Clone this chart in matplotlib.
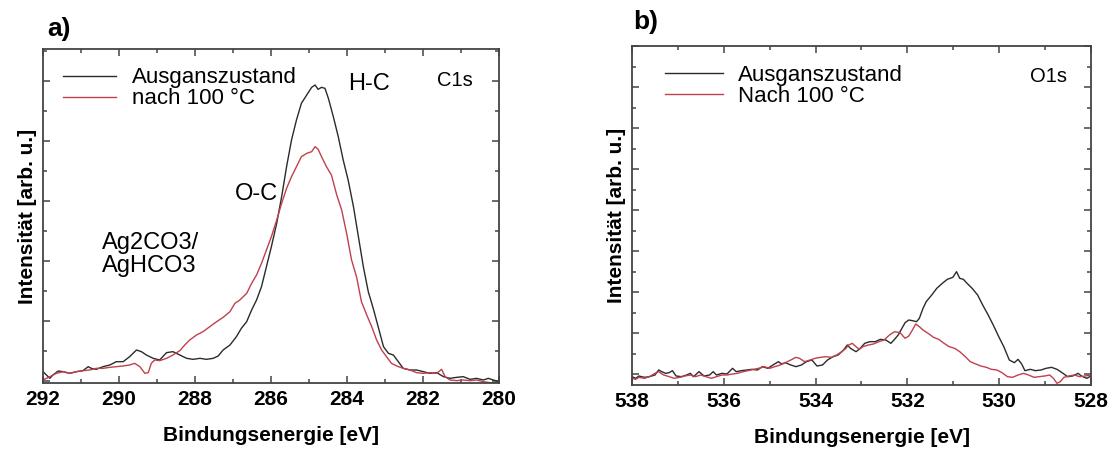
import matplotlib
matplotlib.use("Agg")
import matplotlib.pyplot as plt
from matplotlib.ticker import MultipleLocator

plt.rcParams['font.family'] = ['Liberation Sans', 'DejaVu Sans']

# ---- a) C1s ----
c1s_e_start = [292.00, 291.91, 291.82, 291.74, 291.60, 291.47, 291.30, 291.12, 290.95, 290.81,
               290.73, 290.60, 290.42, 290.24, 290.07, 289.89, 289.72, 289.54, 289.41, 289.28,
               289.10, 288.93, 288.75, 288.58, 288.40, 288.22, 288.05, 287.87, 287.70, 287.52,
               287.39, 287.26, 287.08, 286.91, 286.78, 286.64, 286.51, 286.38, 286.25, 286.12,
               285.99, 285.85, 285.72, 285.59, 285.46, 285.33, 285.20, 285.06, 284.93, 284.84,
               284.76, 284.67, 284.58, 284.49, 284.36, 284.23, 284.10, 283.97, 283.83, 283.70,
               283.57, 283.44, 283.31, 283.18, 283.04, 282.91, 282.78, 282.65, 282.52, 282.34,
               282.17, 281.99, 281.82, 281.64, 281.46, 281.29, 281.11, 280.94, 280.76, 280.59,
               280.41, 280.28, 280.15, 280.00]
c1s_i_start = [2.8, 1.8, 0.8, 1.8, 3.0, 2.8, 2.3, 2.8, 3.1, 4.3,
               3.8, 3.5, 4.3, 4.8, 5.8, 5.8, 7.3, 9.3, 8.8, 7.8,
               6.8, 6.3, 8.5, 8.8, 7.8, 6.8, 6.5, 6.8, 6.5, 6.8,
               7.5, 9.3, 10.8, 13.3, 15.8, 17.8, 21.3, 24.3, 28.3, 34.3,
               40.3, 47.3, 55.3, 64.3, 72.3, 78.3, 83.3, 85.8, 88.1, 88.8,
               87.5, 88.1, 87.8, 84.8, 79.3, 73.3, 66.3, 60.3, 52.3, 43.3,
               34.3, 26.8, 21.8, 16.3, 10.3, 8.3, 7.8, 5.8, 3.8, 3.3,
               3.3, 2.8, 2.3, 2.5, 1.3, 0.8, 1.1, 1.3, 0.5, 0.8,
               0.3, 0.8, 0.3, -0.2]

c1s_e_100 = [292.00, 291.82, 291.65, 291.47, 291.30, 291.12, 290.95, 290.77, 290.60, 290.42,
             290.24, 290.07, 289.89, 289.72, 289.59, 289.45, 289.32, 289.23, 289.15, 289.06,
             288.93, 288.75, 288.58, 288.40, 288.27, 288.14, 287.96, 287.79, 287.61, 287.43,
             287.26, 287.08, 286.95, 286.82, 286.64, 286.51, 286.38, 286.25, 286.12, 285.99,
             285.85, 285.72, 285.59, 285.46, 285.33, 285.20, 285.06, 284.93, 284.84, 284.76,
             284.67, 284.54, 284.41, 284.27, 284.14, 284.01, 283.88, 283.75, 283.62, 283.48,
             283.35, 283.22, 283.09, 282.96, 282.83, 282.69, 282.52, 282.34, 282.17, 281.99,
             281.82, 281.64, 281.51, 281.42, 281.29, 281.11, 280.94, 280.76, 280.59, 280.41,
             280.24, 280.00]
c1s_i_100 = [0.3, 1.3, 2.3, 2.8, 2.3, 2.8, 3.1, 3.3, 3.8, 3.8,
             4.1, 4.3, 4.5, 4.8, 5.3, 4.3, 2.3, 2.5, 5.3, 6.3,
             6.1, 6.8, 7.8, 9.1, 10.8, 12.3, 13.8, 14.8, 16.3, 17.8,
             19.1, 20.8, 23.3, 24.3, 26.3, 29.3, 31.8, 35.3, 39.3, 43.3,
             48.3, 53.3, 57.8, 61.3, 64.3, 67.3, 68.3, 68.8, 70.3, 69.5,
             67.3, 64.3, 61.8, 55.8, 51.3, 44.3, 36.3, 31.3, 23.8, 19.8,
             16.3, 12.3, 9.3, 7.3, 5.3, 4.5, 3.8, 3.3, 2.5, 2.3,
             2.5, 2.3, 3.5, 1.3, 0.3, 0.1, 0.3, 0.1, 0.3, -0.2,
             -0.5, -0.5]

# ---- b) O1s ----
o1s_e_start = [538.00, 537.92, 537.85, 537.73, 537.62, 537.50, 537.42, 537.35, 537.27, 537.19,
               537.12, 537.04, 536.92, 536.81, 536.73, 536.66, 536.54, 536.43, 536.31, 536.23,
               536.16, 536.04, 535.93, 535.81, 535.73, 535.62, 535.50, 535.39, 535.27, 535.16,
               535.04, 534.93, 534.81, 534.74, 534.66, 534.54, 534.43, 534.31, 534.20, 534.08,
               533.97, 533.85, 533.74, 533.62, 533.51, 533.39, 533.31, 533.24, 533.12, 533.05,
               532.93, 532.82, 532.70, 532.59, 532.47, 532.36, 532.28, 532.20, 532.12, 532.05,
               531.97, 531.89, 531.80, 531.74, 531.66, 531.59, 531.47, 531.36, 531.24, 531.13,
               531.01, 530.93, 530.86, 530.78, 530.70, 530.59, 530.47, 530.36, 530.24, 530.13,
               530.01, 529.90, 529.78, 529.67, 529.59, 529.51, 529.44, 529.32, 529.21, 529.09,
               528.98, 528.86, 528.74, 528.63, 528.51, 528.40, 528.28, 528.21, 528.09, 528.00]
o1s_i_start = [2.5, 2.0, 2.7, 2.3, 2.5, 3.0, 4.5, 4.0, 3.5, 3.7,
               4.3, 2.7, 2.5, 3.0, 3.5, 2.5, 4.0, 2.7, 3.0, 4.0,
               3.0, 3.5, 3.3, 5.0, 4.0, 4.3, 4.5, 4.7, 4.5, 5.5,
               5.0, 6.0, 7.0, 6.3, 6.7, 6.0, 5.5, 6.0, 7.0, 7.5,
               5.7, 6.0, 7.5, 8.5, 9.0, 10.5, 12.0, 11.0, 10.0, 10.7,
               12.5, 13.0, 13.0, 13.7, 13.5, 12.5, 13.7, 15.0, 17.0, 18.7,
               19.5, 19.3, 19.0, 20.0, 23.0, 25.0, 27.0, 29.0, 30.5, 31.7,
               32.3, 34.0, 32.0, 31.7, 30.5, 29.0, 27.0, 24.0, 21.0, 18.0,
               14.5, 11.5, 7.5, 6.7, 7.7, 6.3, 4.3, 4.7, 4.3, 4.5,
               5.0, 5.3, 4.7, 3.7, 2.5, 2.7, 3.5, 2.7, 2.0, 2.7]

o1s_e_100 = [538.00, 537.92, 537.85, 537.73, 537.62, 537.50, 537.42, 537.31, 537.19, 537.08,
             536.96, 536.85, 536.73, 536.62, 536.50, 536.39, 536.27, 536.16, 536.04, 535.93,
             535.81, 535.70, 535.58, 535.47, 535.35, 535.24, 535.12, 535.00, 534.89, 534.77,
             534.66, 534.54, 534.43, 534.35, 534.24, 534.12, 534.01, 533.89, 533.78, 533.66,
             533.54, 533.43, 533.34, 533.28, 533.20, 533.12, 533.05, 532.97, 532.85, 532.74,
             532.62, 532.51, 532.39, 532.28, 532.16, 532.05, 531.97, 531.89, 531.82, 531.74,
             531.66, 531.55, 531.43, 531.32, 531.20, 531.09, 530.97, 530.86, 530.74, 530.63,
             530.51, 530.40, 530.28, 530.17, 530.05, 529.94, 529.82, 529.71, 529.59, 529.47,
             529.36, 529.24, 529.13, 529.01, 528.90, 528.82, 528.74, 528.67, 528.59, 528.48,
             528.36, 528.25, 528.13, 528.00]
o1s_i_100 = [2.0, 1.7, 2.3, 2.0, 2.5, 3.5, 4.0, 3.0, 2.5, 2.0,
             2.3, 2.7, 3.0, 2.5, 3.0, 2.5, 2.0, 2.5, 3.0, 3.0,
             3.3, 3.5, 4.0, 4.3, 4.7, 5.0, 5.5, 5.0, 5.5, 6.0,
             6.7, 7.5, 8.3, 8.0, 7.0, 7.5, 8.0, 8.3, 8.5, 8.3,
             9.0, 10.0, 11.0, 12.0, 12.5, 11.5, 10.7, 11.5, 12.0, 12.3,
             13.0, 13.5, 15.0, 16.0, 15.7, 14.0, 14.7, 16.5, 18.3, 17.5,
             16.5, 15.5, 14.3, 13.7, 12.5, 11.5, 11.0, 10.0, 8.5, 7.0,
             6.3, 5.7, 5.3, 4.7, 4.5, 3.7, 2.5, 2.3, 3.0, 3.5,
             3.0, 2.3, 2.5, 2.7, 3.0, 2.0, 0.5, 1.0, 2.3, 2.7,
             3.0, 2.5, 2.7, 3.0]

black = '#2b2b2b'
red = '#c0404c'
axcol = '#444444'

fig = plt.figure(figsize=(11.13, 4.53), dpi=100)
ax1 = fig.add_axes([43/1113, 70/453, 456/1113, 334/453])
ax2 = fig.add_axes([632/1113, 68/453, 459/1113, 339/453])


def style(ax):
    for s in ax.spines.values():
        s.set_color(axcol)
        s.set_linewidth(1.3)
    ax.tick_params(which='both', direction='in', top=True, right=True,
                   labelleft=False, color=axcol, width=1.1)
    ax.tick_params(which='major', length=5, pad=5)
    ax.tick_params(which='minor', length=3)
    ax.xaxis.set_major_locator(MultipleLocator(2))
    ax.xaxis.set_minor_locator(MultipleLocator(1))
    for lab in ax.get_xticklabels():
        lab.set_fontsize(15)
        lab.set_fontweight('bold')
    ax.set_xlabel('Bindungsenergie [eV]', fontsize=15, fontweight='bold', labelpad=12)
    ax.set_ylabel('Intensität [arb. u.]', fontsize=15, fontweight='bold', labelpad=4)


# panel a
ax1.plot(c1s_e_start, c1s_i_start, color=black, lw=1.0, label='Ausganszustand')
ax1.plot(c1s_e_100, c1s_i_100, color=red, lw=1.0, label='nach 100 °C')
ax1.set_xlim(292, 280)
ax1.set_ylim(-0.6, 99.6)
ax1.yaxis.set_major_locator(MultipleLocator(18))
ax1.yaxis.set_minor_locator(MultipleLocator(9))
style(ax1)
ax1.legend(loc='upper left', bbox_to_anchor=(0.044, 0.945), frameon=False, fontsize=16,
           handlelength=2.4, handletextpad=0.7, borderpad=0, borderaxespad=0,
           labelspacing=0.0)
ax1.text(0.67, 0.895, 'H-C', transform=ax1.transAxes, fontsize=17, va='center')
ax1.text(0.865, 0.905, 'C1s', transform=ax1.transAxes, fontsize=14.5, va='center')
ax1.text(0.42, 0.565, 'O-C', transform=ax1.transAxes, fontsize=17, va='center')
ax1.text(0.13, 0.385, 'Ag2CO3/\nAgHCO3', transform=ax1.transAxes, fontsize=17,
         va='center', linespacing=1.05)
fig.text(47/1113, 1 - 29/453, 'a)', fontsize=19, fontweight='bold', va='center')

# panel b
ax2.plot(o1s_e_start, o1s_i_start, color=black, lw=1.0, label='Ausganszustand')
ax2.plot(o1s_e_100, o1s_i_100, color=red, lw=1.0, label='Nach 100 °C')
ax2.set_xlim(538, 528)
ax2.set_ylim(0, 101.7)
ax2.yaxis.set_major_locator(MultipleLocator(12.3, offset=3.3))
ax2.yaxis.set_minor_locator(MultipleLocator(6.15, offset=3.3))
style(ax2)
ax2.legend(loc='upper left', bbox_to_anchor=(0.072, 0.945), frameon=False, fontsize=16,
           handlelength=2.6, handletextpad=0.7, borderpad=0, borderaxespad=0,
           labelspacing=0.0)
ax2.text(0.868, 0.91, 'O1s', transform=ax2.transAxes, fontsize=14.5, va='center')
fig.text(633/1113, 1 - 22/453, 'b)', fontsize=19, fontweight='bold', va='center')

fig.savefig('out.png', dpi=100)
